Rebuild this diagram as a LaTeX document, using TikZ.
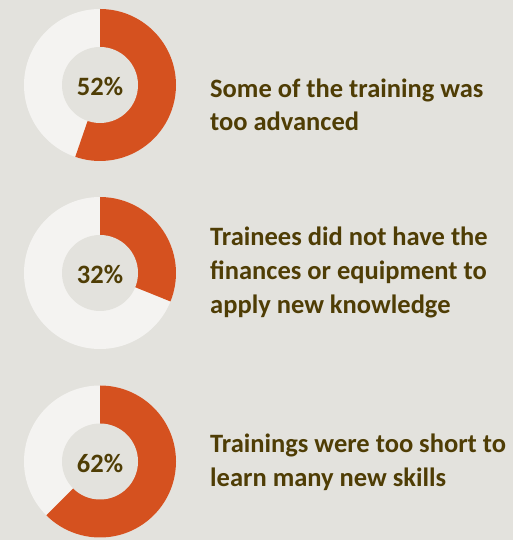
\documentclass[tikz,border=0pt]{standalone}
\usepackage{fontspec}
\setmainfont{Carlito}
\definecolor{bgc}{HTML}{E3E2DD}
\definecolor{orangec}{HTML}{D5511F}
\definecolor{lightc}{HTML}{F4F3F1}
\definecolor{textc}{HTML}{4F3D05}
\tikzset{
  pct/.style={font=\fontsize{26.5}{30}\selectfont\bfseries, text=textc, inner sep=0pt},
  label/.style={font=\fontsize{26.5}{33.8}\selectfont\bfseries, text=textc, inner sep=0pt, align=left, anchor=base west},
}
% #1 centre, #2 percentage text, #3 end angle of orange arc, #4 node name
\newcommand{\mydonut}[4]{%
  \fill[lightc] (#1) circle[radius=76pt];
  \fill[orangec] (#1) -- ++(90:76pt) arc[start angle=90, end angle=#3, radius=76pt] -- cycle;
  \fill[bgc] (#1) circle[radius=38pt];
  \node[pct] (#4) at ([yshift=-1.5pt]#1) {#2\%};
}
\begin{document}
\begin{tikzpicture}[x=1pt,y=1pt]
\fill[bgc] (0,0) rectangle (513,540);
\useasboundingbox (0,0) rectangle (513,540);
\coordinate (c1) at (100,455);
\coordinate (c2) at (100,267);
\coordinate (c3) at (100,78.5);
\mydonut{c1}{52}{-109}{p1}
\mydonut{c2}{32}{-22}{p2}
\mydonut{c3}{62}{-135}{p3}
\node[label] (t1) at (210,409) {Some of the training was\\too advanced};
\node[label] (t2) at (210,226.7) {Trainees did not have the\\finances or equipment to\\apply new knowledge};
\node[label] (t3) at (210,53.3) {Trainings were too short to\\learn many new skills};
\end{tikzpicture}
\end{document}
